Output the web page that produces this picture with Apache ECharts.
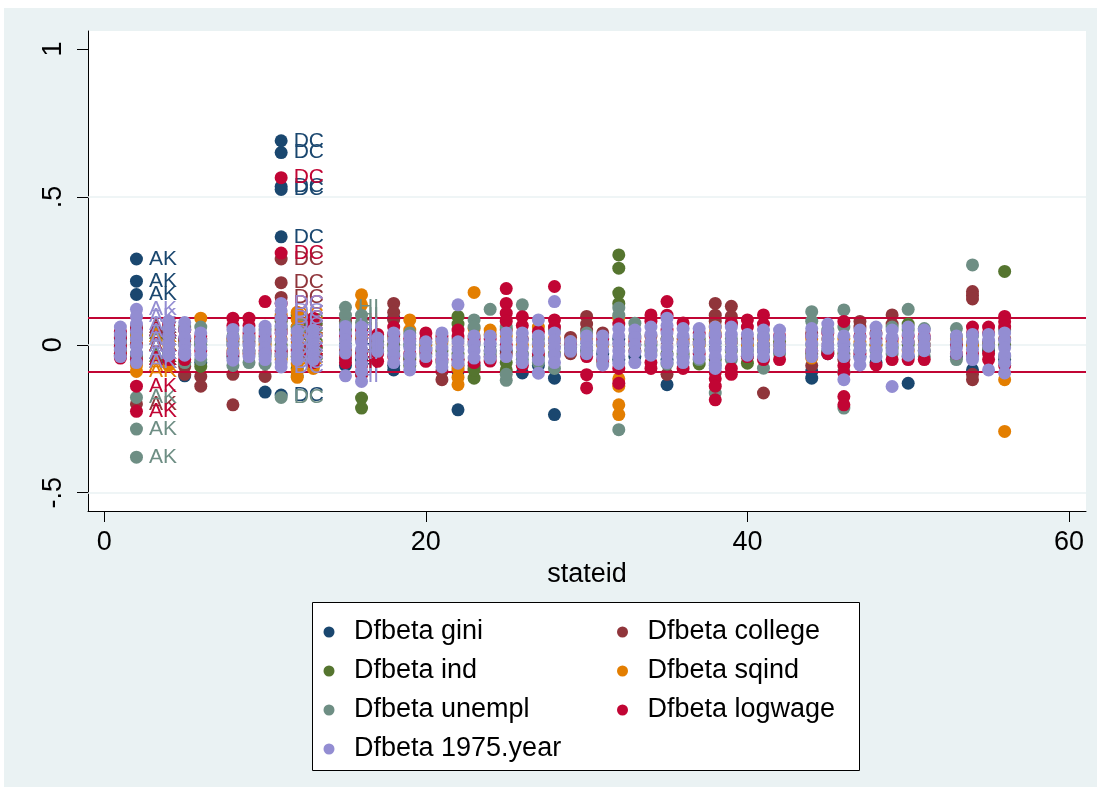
<!DOCTYPE html>
<html>
<head>
<meta charset="utf-8">
<script src="https://cdn.jsdelivr.net/npm/echarts@6/dist/echarts.min.js"></script>
<style>
  html, body { margin: 0; padding: 0; background: #fff; }
  #chart { width: 1101px; height: 794px; }
</style>
</head>
<body>
<div id="chart"></div>
<script>
// State FIPS codes on the x axis
const stateIds = [1, 2, 4, 5, 6, 8, 9, 10, 11, 12, 13, 15, 16, 17, 18, 19, 20, 21, 22, 23, 24, 25, 26,
  27, 28, 29, 30, 31, 32, 33, 34, 35, 36, 37, 38, 39, 40, 41, 42, 44, 45, 46, 47, 48, 49, 50, 51, 53, 54, 55, 56];
// Marker labels shown for these states only
const stateAbbrev = { 2: 'AK', 11: 'DC', 15: 'HI' };

// DFBETA values per state (one list per state, same order as stateIds)
const dfGini = [
  [0.02, -0.01, -0.035], [0.29, 0.215, 0.17, 0.05, 0.0, -0.03], [0.04, -0.02, -0.06], [-0.105, 0.02],
  [-0.06, 0.01], [0.01, -0.04], [0.0], [-0.16, 0.02], [0.69, 0.65, 0.535, 0.525, 0.365, -0.17],
  [0.0], [-0.03], [0.0, -0.07], [-0.05], [0.0], [0.09, -0.07, -0.085], [0.0], [-0.01], [0.0],
  [-0.22, -0.09], [-0.07], [0.0], [-0.02], [-0.095], [-0.07], [-0.113, -0.236], [-0.01], [0.0],
  [-0.03], [-0.05, 0.02], [-0.04], [0.0], [-0.135, -0.05], [0.0], [0.0], [0.0], [0.0], [0.0],
  [-0.02], [0.0], [-0.113, -0.09], [-0.03], [0.0], [-0.04], [-0.06], [0.0], [-0.13, -0.04], [0.0],
  [-0.04], [-0.085], [-0.02], [-0.05]
];
const dfCollege = [
  [0.03, 0.0, -0.03], [-0.2, -0.06, 0.02, 0.06], [0.05, -0.05], [-0.073, -0.1, 0.05],
  [-0.107, -0.14, 0.02], [-0.1, -0.203, 0.02], [0.01, -0.03], [-0.107, 0.0], [0.29, 0.21, 0.16, 0.05, -0.03],
  [0.03], [0.07, 0.0], [0.08, -0.02], [0.02], [0.01], [0.14, 0.11, 0.085, 0.0], [-0.05], [0.0],
  [-0.118, -0.09], [0.0, -0.07], [-0.08, 0.01], [-0.04], [0.05, -0.03], [0.02], [0.0], [0.0],
  [0.025, -0.03], [0.096, 0.07, 0.05], [0.04], [0.0], [-0.02], [0.03], [-0.1, 0.0], [0.02], [0.01],
  [0.14, 0.1, 0.08], [0.13, 0.096, 0.075], [0.02], [-0.163, 0.0], [-0.02], [-0.07, 0.04], [0.0],
  [-0.05], [0.079, 0.06], [0.04], [0.101, 0.07], [0.01], [0.02], [0.01], [0.18, 0.167, 0.155, -0.1, -0.118],
  [0.01], [0.02]
];
const dfInd = [
  [0.01, -0.02], [-0.04, 0.0, 0.04], [0.02, -0.03], [-0.06, 0.01], [-0.073, 0.0], [0.0], [-0.02],
  [0.01, -0.03], [0.08, 0.0, -0.04], [0.1, 0.06, -0.08, -0.105], [0.06, -0.07], [0.05, -0.03],
  [-0.18, -0.214, -0.1], [-0.01], [0.0], [-0.045, -0.07], [-0.03], [-0.02], [0.096, 0.07, -0.03],
  [-0.113, -0.085], [-0.02], [-0.085, -0.06], [-0.03], [-0.04], [-0.03], [0.0], [-0.02], [0.0],
  [0.304, 0.259, 0.175, 0.14], [0.0], [-0.02], [-0.03], [-0.03], [-0.065, 0.02], [-0.05], [-0.02],
  [-0.062, -0.04], [0.0], [0.01], [-0.03], [-0.025], [-0.03], [0.0], [0.0], [-0.01], [0.07, 0.0],
  [-0.02], [0.0], [0.0], [-0.01], [0.248, 0.0]
];
const dfSqind = [
  [0.0, -0.03], [-0.09, -0.07, 0.0, 0.03], [-0.07, 0.0], [0.0], [0.09, 0.02], [0.02, -0.02], [0.03],
  [0.0], [0.1, 0.02, -0.05], [0.11, 0.085, 0.06, 0.035, 0.01, -0.015, -0.04, -0.065, -0.09, -0.11],
  [0.08, -0.08], [0.02], [0.169, 0.135, 0.03], [0.0], [0.02], [0.084, 0.05], [0.0], [0.01],
  [-0.135, -0.11, -0.08], [0.177, 0.055, 0.03], [0.05, 0.035], [0.03], [0.0], [0.06, 0.0], [0.02],
  [0.01], [0.02], [0.0], [0.09, -0.115, -0.14, -0.203, -0.236], [0.02], [0.01], [0.02], [0.01], [0.0],
  [0.06, 0.04], [0.01], [0.0], [0.02], [0.0], [-0.045, 0.02], [0.02], [0.02], [0.01], [0.0], [0.01],
  [-0.02], [0.0], [0.02], [0.0], [0.0], [-0.118, -0.293]
];
const dfUnempl = [
  [0.04, 0.0, -0.04], [-0.38, -0.285, -0.178, -0.05, 0.02], [0.06, -0.04], [0.06, 0.0, -0.06],
  [0.06, 0.0, -0.05], [-0.07, 0.03], [-0.06, 0.02], [0.05, -0.04, -0.065], [-0.178, 0.06, -0.02],
  [-0.04, 0.05], [0.02, -0.04], [0.127, 0.1, 0.07, -0.05], [0.1, 0.075, -0.02], [0.01, -0.02],
  [-0.02, 0.03], [0.04, 0.0], [0.01], [0.02, -0.06], [-0.05, 0.02], [0.084, 0.06, 0.0], [0.12, -0.03],
  [-0.12, -0.1, 0.06], [0.135, -0.05], [0.02, -0.06], [0.05, -0.08], [-0.01], [0.04, -0.02],
  [-0.06, 0.01], [0.124, 0.1, -0.287], [0.073, 0.03], [0.0], [-0.065, 0.02], [-0.04], [-0.05],
  [-0.163, -0.07], [-0.05, 0.02], [-0.02], [-0.079, 0.03], [-0.03], [0.112, 0.08, 0.0], [0.05, -0.02],
  [0.118, 0.06, -0.214, -0.09], [-0.02], [-0.02], [0.06, -0.03], [0.12, 0.05], [0.055, -0.04],
  [0.055, 0.03, -0.05], [0.27, 0.03], [0.0], [0.05, -0.04]
];
const dfLogwage = [
  [0.045, 0.025, -0.005, -0.03, -0.045], [-0.14, -0.225, -0.05, 0.0, 0.05], [0.07, 0.03, -0.05],
  [0.05, 0.02, -0.03, -0.05], [0.03, -0.02], [0.09, 0.065, -0.03], [0.09, 0.065, 0.04], [0.146, 0.03, -0.02],
  [0.565, 0.31, 0.14, 0.09, 0.04, -0.02], [0.02, -0.02], [0.09, 0.065, 0.04, -0.06], [-0.044, -0.06, 0.03],
  [0.05, -0.03, -0.07, -0.1], [0.035, -0.03, -0.056], [0.06, 0.035, -0.04], [0.02, -0.03],
  [0.04, 0.02, -0.02, -0.056], [0.03, -0.05], [0.05, 0.03, -0.05], [0.02, -0.06], [0.02, -0.055],
  [0.19, 0.14, 0.107, 0.08, 0.0], [0.095, 0.065, -0.07], [0.045, -0.03], [0.197, 0.084, 0.06], [0.0],
  [-0.04, -0.101, -0.146], [0.02, -0.05], [0.07, -0.08, -0.13], [0.01], [0.101, 0.08, -0.06, -0.08],
  [0.146, 0.1, 0.05], [0.074, -0.08], [0.04, -0.03], [-0.094, -0.115, -0.14, -0.186, 0.03],
  [0.07, -0.08, -0.1], [0.084, 0.06, -0.04], [0.101, 0.07, -0.05], [-0.05, 0.03], [0.03, -0.02],
  [0.04, -0.03], [0.079, -0.07, -0.095, -0.175, -0.203], [0.03, -0.03], [-0.068, 0.02], [-0.05, 0.02],
  [0.03, -0.05], [-0.05, 0.03], [0.0, -0.03], [0.06, 0.04, -0.03], [0.06, 0.04, -0.03, -0.05],
  [0.096, 0.078, 0.06, -0.07]
];
const dfYear1975 = [
  [0.06, 0.035, 0.01, -0.015, -0.04], [0.12, 0.095, 0.07, 0.045, 0.02, -0.005, -0.03, -0.06],
  [0.08, 0.055, 0.03, 0.005, -0.02, -0.035], [0.075, 0.05, 0.025, 0.0, -0.02, -0.035],
  [0.04, 0.015, -0.01, -0.035], [0.052, 0.025, 0.0, -0.025, -0.052], [0.05, 0.025, 0.0, -0.02, -0.04],
  [0.063, 0.04, 0.015, -0.01, -0.03, -0.05], [0.14, 0.115, 0.09, 0.065, 0.04, 0.015, -0.01, -0.035, -0.06, -0.075],
  [0.045, 0.02, -0.005, -0.03, -0.05], [0.05, 0.025, 0.0, -0.025, -0.05], [0.062, 0.04, 0.018, -0.005, -0.028, -0.105],
  [0.06, 0.035, 0.01, -0.015, -0.04, -0.065, -0.09, -0.124], [0.023, 0.0, -0.022], [0.04, 0.015, -0.01, -0.035, -0.06],
  [0.03, 0.012, -0.01, -0.035, -0.062, -0.085], [0.01, -0.015, -0.04], [0.04, 0.015, -0.01, -0.035, -0.055, -0.075],
  [0.135, 0.01, -0.015, -0.04, -0.062], [0.03, 0.005, -0.02, -0.045], [0.03, 0.005, -0.02, -0.045],
  [0.04, 0.015, -0.01, -0.04], [0.04, 0.015, -0.01, -0.035, -0.06], [0.084, 0.03, 0.005, -0.02, -0.05, -0.096],
  [0.146, 0.04, 0.015, -0.01, -0.035, -0.06], [0.011, -0.005, -0.022], [0.03, 0.01, -0.01, -0.03],
  [0.03, 0.005, -0.02, -0.045, -0.068], [0.054, 0.03, 0.005, -0.02, -0.04, -0.063], [0.05, 0.025, 0.0, -0.025, -0.06],
  [0.06, 0.035, 0.01, -0.015, -0.035], [0.09, 0.065, 0.04, 0.015, -0.01, -0.035, -0.06],
  [0.055, 0.03, 0.005, -0.02, -0.045, -0.06], [0.055, 0.03, 0.005, -0.02, -0.045],
  [0.06, 0.035, 0.01, -0.015, -0.04, -0.065, -0.08], [0.06, 0.035, 0.01, -0.015, -0.04],
  [0.035, 0.01, -0.015, -0.035], [0.05, 0.025, 0.0, -0.02, -0.04], [0.05, 0.025, 0.0, -0.02],
  [0.055, 0.03, 0.005, -0.02, -0.04], [0.07, 0.045, 0.02, 0.0, -0.012], [0.03, 0.005, -0.017, -0.04, -0.118],
  [0.05, 0.025, 0.0, -0.02, -0.045, -0.068], [0.06, 0.035, 0.01, -0.015, -0.04], [0.05, 0.025, 0.0, -0.02, -0.141],
  [0.06, 0.035, 0.01, -0.015, -0.035], [0.05, 0.025, 0.0, -0.02], [0.03, 0.01, -0.01, -0.03],
  [0.035, 0.01, -0.015, -0.04, -0.05], [0.035, 0.015, -0.005, -0.085], [0.04, 0.015, -0.01, -0.035, -0.062, -0.095]
];

const seriesNames = ['Dfbeta gini', 'Dfbeta college', 'Dfbeta ind', 'Dfbeta sqind',
  'Dfbeta unempl', 'Dfbeta logwage', 'Dfbeta 1975.year'];
const seriesValues = [dfGini, dfCollege, dfInd, dfSqind, dfUnempl, dfLogwage, dfYear1975];
const seriesColors = ['#1a476f', '#90353b', '#55752f', '#e37e00', '#6e8e84', '#c10534', '#938dd2'];

const xTicks = [0, 20, 40, 60];
const yTicks = [-0.5, 0, 0.5, 1];
const gridValues = [-0.5, 0, 0.5];
const cutoff = 0.0925;   // 2/sqrt(N) reference lines

const FONT = '"Liberation Sans", Arial, sans-serif';

function toPoints(values) {
  const pts = [];
  stateIds.forEach((s, i) => {
    values[i].forEach(v => pts.push([s, v, stateAbbrev[s] || '']));
  });
  return pts;
}

function fmtY(v) {
  if (v === 0) return '0';
  const s = String(Math.abs(v)).replace(/^0/, '');
  return (v < 0 ? '-' : '') + s;
}

const scatterSeries = seriesNames.map((name, k) => ({
  type: 'scatter',
  name: name,
  z: 3 + k,
  data: toPoints(seriesValues[k]),
  symbol: 'circle',
  symbolSize: 13,
  itemStyle: { color: seriesColors[k], opacity: 1 },
  label: {
    show: true,
    position: 'right',
    distance: 6,
    formatter: p => p.value[2],
    color: seriesColors[k],
    fontSize: 21,
    fontFamily: FONT
  },
  emphasis: { disabled: true },
  progressive: 0,
  animation: false
}));

// grid lines and the +/- cutoff lines, kept beneath the markers
const lineSeries = {
  type: 'scatter',
  name: 'refs',
  z: 1,
  data: [],
  silent: true,
  markLine: {
    silent: true,
    symbol: ['none', 'none'],
    label: { show: false },
    animation: false,
    data: gridValues.map(v => ({ yAxis: v, lineStyle: { color: '#eaf2f3', width: 1.5, type: 'solid' } }))
      .concat([cutoff, -cutoff].map(v => ({ yAxis: v, lineStyle: { color: '#c10534', width: 2, type: 'solid' } })))
  }
};

const legendBase = {
  orient: 'vertical',
  top: 612,
  itemWidth: 11,
  itemHeight: 11,
  itemGap: 9,
  icon: 'circle',
  selectedMode: false,
  textStyle: { fontSize: 27, color: '#000', fontFamily: FONT, lineHeight: 30, padding: [0, 0, 0, 14.5] }
};

const chart = echarts.init(document.getElementById('chart'), null, { renderer: 'canvas' });
chart.setOption({
  animation: false,
  backgroundColor: '#fff',
  textStyle: { fontFamily: FONT },
  graphic: [
    { type: 'rect', z: -10, silent: true, shape: { x: 4, y: 8, width: 1093, height: 779 }, style: { fill: '#eaf2f3' } },
    { type: 'rect', z: 1, silent: true, shape: { x: 312.5, y: 602.5, width: 547, height: 168 },
      style: { fill: '#fff', stroke: '#000', lineWidth: 1 } }
  ],
  grid: { left: 88, top: 31, width: 998, height: 480, show: true, backgroundColor: '#fff', borderWidth: 0 },
  xAxis: {
    type: 'value',
    min: -1.014,
    max: 61.06,
    name: 'stateid',
    nameLocation: 'middle',
    nameGap: 50,
    nameTextStyle: { fontSize: 27, color: '#000', fontFamily: FONT },
    axisLine: { show: true, onZero: false, lineStyle: { color: '#000', width: 1 } },
    axisTick: { show: true, customValues: xTicks, length: 11, lineStyle: { color: '#000', width: 1 } },
    axisLabel: { customValues: xTicks, fontSize: 27, color: '#000', margin: 18, fontFamily: FONT },
    splitLine: { show: false }
  },
  yAxis: {
    type: 'value',
    min: -0.562,
    max: 1.061,
    axisLine: { show: true, onZero: false, lineStyle: { color: '#000', width: 1 } },
    axisTick: { show: true, customValues: yTicks, length: 11, lineStyle: { color: '#000', width: 1 } },
    axisLabel: { customValues: yTicks, rotate: 90, fontSize: 27, color: '#000', margin: 21,
      formatter: fmtY, fontFamily: FONT },
    splitLine: { show: false }
  },
  legend: [
    Object.assign({}, legendBase, { left: 318.5, data: ['Dfbeta gini', 'Dfbeta ind', 'Dfbeta unempl', 'Dfbeta 1975.year'] }),
    Object.assign({}, legendBase, { left: 612, data: ['Dfbeta college', 'Dfbeta sqind', 'Dfbeta logwage'] })
  ],
  series: [lineSeries].concat(scatterSeries)
});
</script>
</body>
</html>
